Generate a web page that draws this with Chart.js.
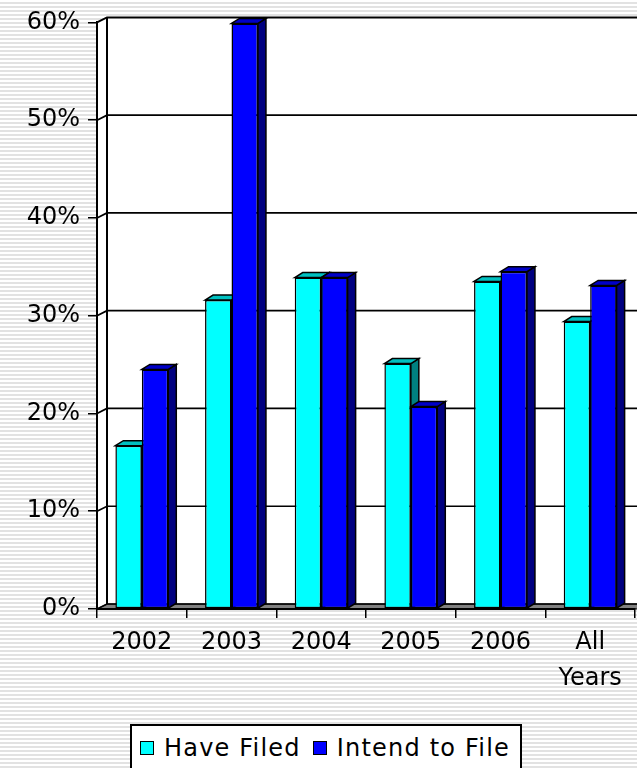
<!DOCTYPE html>
<html>
<head>
<meta charset="utf-8">
<title>Filing chart</title>
<script src="https://cdn.jsdelivr.net/npm/chart.js@4.4.1/dist/chart.umd.min.js"></script>
<style>
  html, body {
    margin: 0;
    padding: 0;
    width: 637px;
    height: 768px;
    overflow: hidden;
    background: repeating-linear-gradient(to bottom, #ffffff 0px, #ffffff 2px, #e2e2e2 2px, #e2e2e2 4px);
    font-family: "DejaVu Sans", sans-serif;
  }
  #wrap { position: absolute; left: 0; top: 0; width: 637px; height: 768px; }
  #legend {
    position: absolute;
    left: 130px;
    top: 724px;
    width: 392px;
    height: 60px;
    background: #fff;
    border: 2px solid #000;
    display: flex;
    align-items: flex-start;
    padding-top: 8px;
    box-sizing: border-box;
    font-size: 24px;
    letter-spacing: 1.2px;
    color: #000;
  }
  .item { display: flex; align-items: center; margin-left: 8px; }
  .item + .item { margin-left: 12px; }
  .swatch { width: 12px; height: 12px; border: 1px solid #000; margin-right: 10px; }
</style>
</head>
<body>
<div id="wrap">
  <canvas id="filingChart" width="637" height="768"></canvas>
  <div id="legend"></div>
</div>
<script>
'use strict';

const categories = ['2002', '2003', '2004', '2005', '2006', ['All', 'Years']];
const haveFiled = [16.7, 31.6, 33.9, 25.1, 33.5, 29.4];
const intendToFile = [24.5, 59.9, 33.9, 20.7, 34.5, 33.1];
const seriesNames = ['Have Filed', 'Intend to File'];
const yMax = 60;
const yStep = 10;

// front / top / side colours of the 3d bars
const faceColors = [
  { front: '#00ffff', top: '#00c0c0', side: '#008080' },
  { front: '#0000ff', top: '#0000c8', side: '#000080' }
];

Chart.defaults.font.family = '"DejaVu Sans", sans-serif';
Chart.defaults.color = '#000';

/**
 * back wall, side wall, floor and gridlines
 */
const WALL_DX = 10;
const WALL_DY = 5;

const wallsPlugin = {
  id: 'walls',
  beforeDraw(chart) {
    const { ctx, chartArea: a, scales: { y } } = chart;
    ctx.save();
    ctx.lineJoin = 'miter';

    // back wall
    ctx.fillStyle = '#fff';
    ctx.fillRect(a.left + WALL_DX, a.top - WALL_DY, chart.width, a.bottom - a.top);

    // left side wall
    ctx.beginPath();
    ctx.moveTo(a.left, a.top);
    ctx.lineTo(a.left + WALL_DX, a.top - WALL_DY);
    ctx.lineTo(a.left + WALL_DX, a.bottom - WALL_DY);
    ctx.lineTo(a.left, a.bottom);
    ctx.closePath();
    ctx.fill();

    // floor
    ctx.beginPath();
    ctx.moveTo(a.left, a.bottom);
    ctx.lineTo(a.left + WALL_DX, a.bottom - WALL_DY);
    ctx.lineTo(chart.width + 20, a.bottom - WALL_DY);
    ctx.lineTo(chart.width + 20, a.bottom);
    ctx.closePath();
    ctx.fillStyle = '#808080';
    ctx.fill();
    ctx.strokeStyle = '#000';
    ctx.lineWidth = 1;
    ctx.stroke();

    // gridlines on the walls
    ctx.strokeStyle = '#000';
    y.ticks.forEach(t => {
      const yf = y.getPixelForValue(t.value);
      ctx.lineWidth = t.value === yMax ? 2 : 1.7;
      ctx.beginPath();
      ctx.moveTo(a.left, yf);
      ctx.lineTo(a.left + WALL_DX, yf - WALL_DY);
      ctx.lineTo(chart.width + 20, yf - WALL_DY);
      ctx.stroke();
    });

    // corner of back wall
    ctx.lineWidth = 2;
    ctx.beginPath();
    ctx.moveTo(a.left + WALL_DX, a.top - WALL_DY);
    ctx.lineTo(a.left + WALL_DX, a.bottom - WALL_DY);
    ctx.stroke();

    ctx.restore();
  }
};

/**
 * sides and tops of the bars
 */
const BAR_DX = 8;
const BAR_DY = 5;

const bars3dPlugin = {
  id: 'bars3d',
  beforeDatasetsDraw(chart) {
    const ctx = chart.ctx;
    ctx.save();
    ctx.strokeStyle = '#000';
    ctx.lineWidth = 1.5;
    ctx.lineJoin = 'miter';
    for (let i = 0; i < chart.data.datasets.length; i++) {
      const meta = chart.getDatasetMeta(i);
      const colors = faceColors[i];
      meta.data.forEach(bar => {
        const { x, y, base, width } = bar.getProps(['x', 'y', 'base', 'width'], true);
        const l = x - width / 2;
        const r = x + width / 2;

        ctx.beginPath();
        ctx.moveTo(r, y);
        ctx.lineTo(r + BAR_DX, y - BAR_DY);
        ctx.lineTo(r + BAR_DX, base - BAR_DY);
        ctx.lineTo(r, base);
        ctx.closePath();
        ctx.fillStyle = colors.side;
        ctx.fill();
        ctx.stroke();

        ctx.beginPath();
        ctx.moveTo(l, y);
        ctx.lineTo(l + BAR_DX, y - BAR_DY);
        ctx.lineTo(r + BAR_DX, y - BAR_DY);
        ctx.lineTo(r, y);
        ctx.closePath();
        ctx.fillStyle = colors.top;
        ctx.fill();
        ctx.stroke();
      });
    }
    ctx.restore();
  }
};

const ctx = document.getElementById('filingChart').getContext('2d');
const filingChart = new Chart(ctx, {
  type: 'bar',
  data: {
    labels: categories,
    datasets: [
      {
        label: seriesNames[0],
        data: haveFiled,
        backgroundColor: faceColors[0].front,
        borderColor: '#000',
        borderWidth: 1.5,
        borderSkipped: false
      },
      {
        label: seriesNames[1],
        data: intendToFile,
        backgroundColor: faceColors[1].front,
        borderColor: '#000',
        borderWidth: 1.5,
        borderSkipped: false
      }
    ]
  },
  options: {
    responsive: false,
    animation: false,
    devicePixelRatio: 1,
    datasets: {
      bar: { categoryPercentage: 0.59, barPercentage: 1 }
    },
    layout: { padding: { top: 20, right: 2, bottom: 0, left: 0 } },
    plugins: {
      legend: { display: false },
      tooltip: { enabled: false }
    },
    scales: {
      x: {
        grid: { drawOnChartArea: false, drawTicks: true, tickLength: 9, color: '#000', lineWidth: 1.5 },
        border: { display: true, color: '#000', width: 2, z: 1 },
        ticks: {
          autoSkip: false,
          maxRotation: 0,
          padding: 7,
          font: { size: 24, lineHeight: 1.5 }
        },
        afterFit(scale) { scale.height = 159; }
      },
      y: {
        min: 0,
        max: yMax,
        grid: { drawOnChartArea: false, drawTicks: true, tickLength: 9, color: '#000', lineWidth: 1.5 },
        border: { display: true, color: '#000', width: 2, z: 1 },
        ticks: {
          stepSize: yStep,
          padding: 8,
          font: { size: 24 },
          callback: v => v + '%'
        },
        afterFit(scale) { scale.width = 97; }
      }
    }
  },
  plugins: [wallsPlugin, bars3dPlugin]
});

// legend as html
const legendEl = document.getElementById('legend');
filingChart.data.datasets.forEach((ds, i) => {
  const item = document.createElement('div');
  item.className = 'item';
  const sw = document.createElement('span');
  sw.className = 'swatch';
  sw.style.background = ds.backgroundColor;
  const txt = document.createElement('span');
  txt.textContent = ds.label;
  item.appendChild(sw);
  item.appendChild(txt);
  legendEl.appendChild(item);
});
</script>
</body>
</html>
